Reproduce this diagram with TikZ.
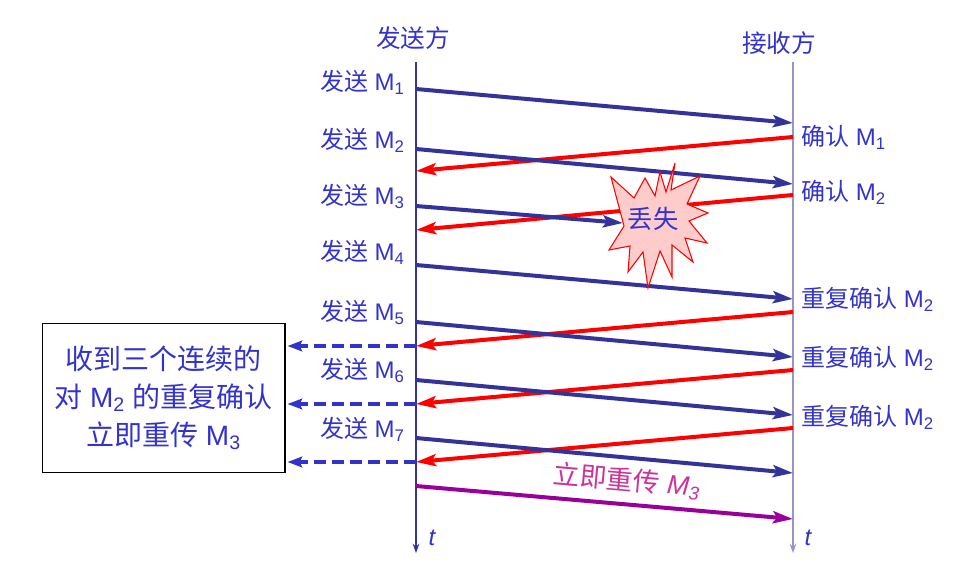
\documentclass[tikz,border=0pt]{standalone}
\usepackage{fontspec}
\setmainfont{Liberation Sans}
\newfontfamily\cjk{Noto Sans CJK SC}
\usetikzlibrary{arrows.meta}
\definecolor{sendblue}{RGB}{51,51,153}
\definecolor{txtblue}{RGB}{51,51,204}
\definecolor{rcvline}{RGB}{150,150,204}
\definecolor{resend}{RGB}{153,0,153}
\definecolor{resendtxt}{RGB}{204,51,153}
\definecolor{burstfill}{RGB}{255,204,204}
\def\Ms#1{M\textsubscript{#1}}

\begin{document}
\begin{tikzpicture}[x=0.75pt,y=-0.75pt,
  lbl/.style={text=txtblue,font=\fontsize{18}{20}\selectfont,inner sep=0pt},
  dat/.style={sendblue,line width=3pt,-{Stealth[length=15pt,width=9pt,inset=3pt]}},
  ack/.style={red,line width=3pt,-{Stealth[length=15pt,width=9pt,inset=3pt]}},
  dup/.style={txtblue,line width=2.6pt,dash pattern=on 9pt off 4.5pt,-{Stealth[length=11pt,width=8pt,inset=2pt]}},
  axis/.style={line width=1.1pt,-{Stealth[length=7pt,width=5pt]}}]
\useasboundingbox (0,0) rectangle (971,566);

% time axes
\coordinate (sTop) at (416,62);
\coordinate (sEnd) at (416,553);
\coordinate (rTop) at (793,62);
\coordinate (rEnd) at (793,553);
\draw[axis,sendblue] (sTop) -- (sEnd);
\draw[axis,rcvline,line width=1.6pt] (rTop) -- (rEnd);
\node[lbl,font=\fontsize{18.5}{20}\selectfont] (sender) at (413,38) {\cjk 发送方};
\node[lbl,font=\fontsize{18.5}{20}\selectfont] (receiver) at (779,43) {\cjk 接收方};
\node[lbl,font=\fontsize{18}{20}\itshape] (tS) at (432,538) {t};
\node[lbl,font=\fontsize{18}{20}\itshape] (tR) at (808,538) {t};

% sender labels
\node[lbl,anchor=base east] (m1) at (405,91) {{\cjk 发送} \Ms{1}};
\node[lbl,anchor=base east] (m2) at (405,149) {{\cjk 发送} \Ms{2}};
\node[lbl,anchor=base east] (m3) at (405,205) {{\cjk 发送} \Ms{3}};
\node[lbl,anchor=base east] (m4) at (405,261) {{\cjk 发送} \Ms{4}};
\node[lbl,anchor=base east] (m5) at (405,321) {{\cjk 发送} \Ms{5}};
\node[lbl,anchor=base east] (m6) at (405,379) {{\cjk 发送} \Ms{6}};
\node[lbl,anchor=base east] (m7) at (405,438) {{\cjk 发送} \Ms{7}};

% receiver labels
\node[lbl,anchor=base west] (a1) at (801,146) {{\cjk 确认} \Ms{1}};
\node[lbl,anchor=base west] (a2) at (801,201) {{\cjk 确认} \Ms{2}};
\node[lbl,anchor=base west] (a3) at (801,308) {{\cjk 重复确认} \Ms{2}};
\node[lbl,anchor=base west] (a4) at (801,367) {{\cjk 重复确认} \Ms{2}};
\node[lbl,anchor=base west] (a5) at (801,426) {{\cjk 重复确认} \Ms{2}};

% points on the time axes
\coordinate (s1) at (416,89);   \coordinate (r1) at (793,123);
\coordinate (s2) at (416,149);  \coordinate (r2) at (793,184);
\coordinate (s3) at (416,206);  \coordinate (hit) at (623,223);
\coordinate (s4) at (416,265);  \coordinate (r4) at (793,299);
\coordinate (s5) at (416,322);  \coordinate (r5) at (793,357);
\coordinate (s6) at (416,380);  \coordinate (r6) at (793,415);
\coordinate (s7) at (416,438);  \coordinate (r7) at (793,473);
\coordinate (s8) at (416,486);  \coordinate (r8) at (793,519);
\coordinate (ra1) at (793,137); \coordinate (sa1) at (416,171);
\coordinate (ra2) at (793,195); \coordinate (sa2) at (416,230);
\coordinate (ra3) at (793,312); \coordinate (sa3) at (416,346);
\coordinate (ra4) at (793,370); \coordinate (sa4) at (416,404);
\coordinate (ra5) at (793,428); \coordinate (sa5) at (416,462);

% acknowledgements
\draw[ack] (ra1) -- (sa1);
\draw[ack] (ra2) -- (sa2);
\draw[ack] (ra3) -- (sa3);
\draw[ack] (ra4) -- (sa4);
\draw[ack] (ra5) -- (sa5);

% segments
\draw[dat] (s1) -- (r1);
\draw[dat] (s2) -- (r2);
\draw[dat] (s3) -- (hit);
\draw[dat] (s4) -- (r4);
\draw[dat] (s5) -- (r5);
\draw[dat] (s6) -- (r6);
\draw[dat] (s7) -- (r7);
\draw[resend,line width=3pt,-{Stealth[length=15pt,width=9pt,inset=3pt]}] (s8) -- (r8);
\node[text=resendtxt,font=\fontsize{20}{22}\selectfont,rotate=-5,inner sep=0pt] (again) at (627,481) {{\cjk 立即重传} {\itshape\Ms{3}}};

% lost segment
\draw[red,line width=0.8pt,fill=burstfill] (675,163) -- (671,190) -- (700,176) -- (687,204)
  -- (708,213) -- (689,221) -- (707,243) -- (685,238) -- (693,262) -- (672,245)
  -- (672,277) -- (660,251) -- (648,288) -- (643,252) -- (628,272) -- (630,246)
  -- (609,250) -- (624,226) -- (611,177) -- (634,198) -- (645,178) -- (655,196)
  -- (660,172) -- (666,192) -- cycle;
\node[lbl,font=\fontsize{19}{20}\selectfont] (lost) at (653,219) {\cjk 丢失};

% fast retransmit box
\node[draw=black,line width=1pt,minimum width=182pt,minimum height=112pt,align=center,
  text=txtblue,font=\fontsize{21}{28.5}\selectfont] (box) at (163.5,398)
  {{\cjk 收到三个连续的}\\{\cjk 对} \Ms{2} {\cjk 的重复确认}\\{\cjk 立即重传} \Ms{3}};
\draw[dup] (sa3) -- ([xshift=1.5pt]box.east |- sa3);
\draw[dup] (sa4) -- ([xshift=1.5pt]box.east |- sa4);
\draw[dup] (sa5) -- ([xshift=1.5pt]box.east |- sa5);
\end{tikzpicture}
\end{document}
